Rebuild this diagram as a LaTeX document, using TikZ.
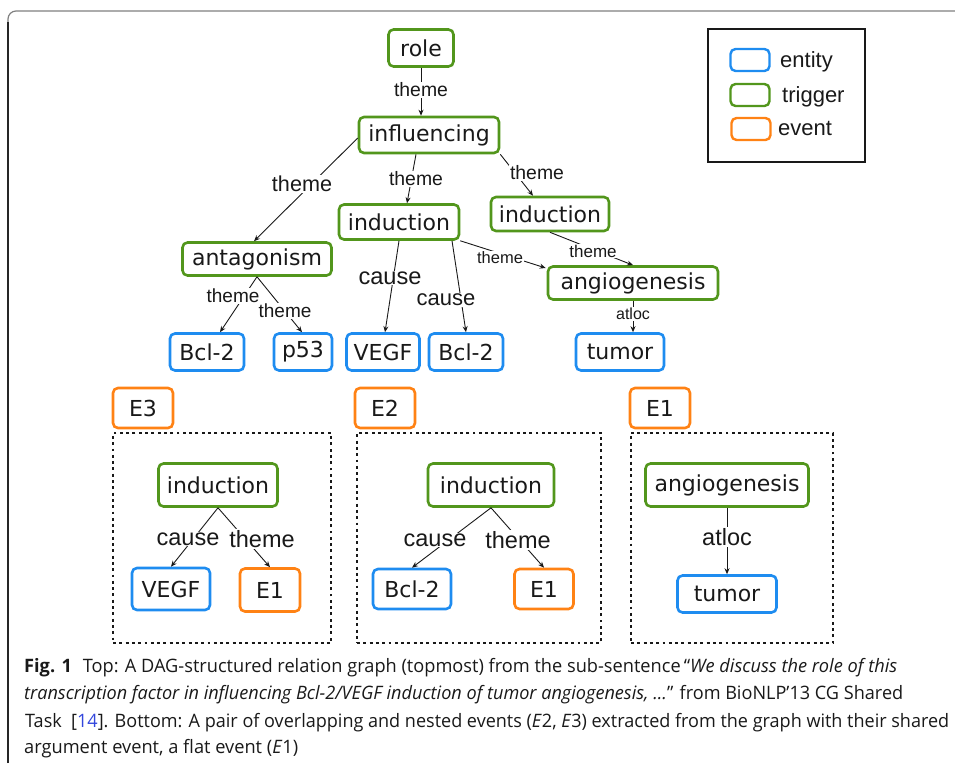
\documentclass[tikz,border=0pt]{standalone}
\usepackage{graphicx}
\usepackage{fontspec}
\usetikzlibrary{arrows.meta,calc}
\newfontfamily\nodefont{DejaVu Sans}
\newfontfamily\labfont{Liberation Sans}
\newfontfamily\capfont{Open Sans}
\definecolor{cgreen}{RGB}{82,150,28}
\definecolor{cblue}{RGB}{30,140,240}
\definecolor{corange}{RGB}{255,130,20}
\definecolor{clink}{RGB}{50,70,220}
\definecolor{ctext}{RGB}{25,25,25}
\tikzset{
  box/.style={draw, rounded corners=5pt, line width=2.6pt, fill=white, inner sep=0pt,
    font=\nodefont\fontsize{22}{26}\selectfont, text=ctext},
  trig/.style={box, draw=cgreen},
  ent/.style={box, draw=cblue},
  evt/.style={box, draw=corange},
  lab/.style={fill=white, inner sep=1pt, text=ctext},
  conn/.style={line width=0.9pt, draw=ctext, -{Stealth[length=6pt,width=5pt]}},
  region/.style={draw=ctext, line width=2.9pt, dash pattern=on 2.9pt off 3.4pt, inner sep=0pt},
  legsw/.style={line width=2.4pt, minimum width=39pt, minimum height=22pt},
  legtxt/.style={anchor=base west, inner sep=0pt, font=\labfont\fontsize{22}{26}\selectfont, text=ctext},
  capline/.style={anchor=base west, inner sep=0pt, text=ctext},
}
\newcommand{\fs}[1]{\labfont\fontsize{#1}{#1}\selectfont}
\newcommand{\capfs}{\capfont\fontsize{18.5}{22}\selectfont}
\begin{document}
\begin{tikzpicture}[x=1pt,y=-1pt]
\useasboundingbox (0,0) rectangle (955,763);
% outer frame
\draw[line width=1.2pt, black!50, rounded corners=8pt] (8,40) -- (8,11) -- (955,11);
\draw[line width=1.2pt, black!85] (8,763) -- (8,22);

% legend
\node[draw=ctext, line width=1.6pt, minimum width=157pt, minimum height=133pt, inner sep=0pt] (legend) at (786.5,95.5) {};
\node[ent, legsw] (lgent) at (750,60) {};
\node[trig, legsw] (lgtrig) at (750,95) {};
\node[evt, legsw] (lgevt) at (751,129) {};
\node[legtxt] (lgentt) at (780,67) {entity};
\node[legtxt] (lgtrigt) at (782,102) {trigger};
\node[legtxt] (lgevtt) at (778,135) {event};

% top graph nodes
\node[trig, minimum width=65pt, minimum height=37pt] (role) at (421,48) {role};
\node[trig, minimum width=140pt, minimum height=36pt] (infl) at (429,135) {influencing};
\node[trig, minimum width=120pt, minimum height=35pt] (indA) at (399,222) {induction};
\node[trig, minimum width=118pt, minimum height=34pt] (indB) at (550,214) {induction};
\node[trig, minimum width=149pt, minimum height=33pt] (antag) at (257,259) {antagonism};
\node[trig, minimum width=170pt, minimum height=33pt] (angio) at (633,283) {angiogenesis};
\node[ent, minimum width=74pt, minimum height=37pt] (bclA) at (207,352) {Bcl-2};
\node[ent, minimum width=58pt, minimum height=37pt] (pff) at (303,352) {p53};
\node[ent, minimum width=73pt, minimum height=37pt] (vegfA) at (383,352) {VEGF};
\node[ent, minimum width=74pt, minimum height=37pt] (bclB) at (466,352) {Bcl-2};
\node[ent, minimum width=88pt, minimum height=37pt] (tumA) at (620,352) {tumor};

% top edges
\draw[conn] (role.south) -- (role.south |- infl.north);
\draw[conn] ($(infl.west)+(0,3)$) -- ($(antag.north)+(-3,0)$);
\draw[conn] ($(infl.south)+(-13,0)$) -- ($(indA.north)+(8,0)$);
\draw[conn] (infl.south east) -- ($(indB.north)+(-17,0)$);
\draw[conn] (indA.south) -- ($(vegfA.north)+(2,0)$);
\draw[conn] ($(indA.south)+(53,0)$) -- (bclB.north);
\draw[conn] (indA.south east) -- ($(angio.west)+(-1,-15)$);
\draw[conn] (indB.south) -- (angio.north);
\draw[conn] (antag.south) -- ($(bclA.north)+(13,0)$);
\draw[conn] (antag.south) -- ($(pff.north)+(-1,0)$);
\draw[conn] (angio.south) -- (angio.south |- tumA.north);

% top edge labels
\node[lab, font=\fs{19.4}] (l1) at (421,90) {theme};
\node[lab, font=\fs{21.6}] (l2) at (302,184) {theme};
\node[lab, font=\fs{19.4}] (l3) at (416,179) {theme};
\node[lab, font=\fs{19.4}] (l4) at (537,173) {theme};
\node[lab, font=\fs{16.5}] (l5) at (500,258) {theme};
\node[lab, font=\fs{17}] (l6) at (593,251) {theme};
\node[lab, font=\fs{19}] (l7) at (233,296) {theme};
\node[lab, font=\fs{19}] (l8) at (285,311) {theme};
\node[lab, font=\fs{23.6}] (l9) at (390,278) {cause};
\node[lab, font=\fs{22}] (l10) at (446,300) {cause};
\node[lab, font=\fs{16}] (l11) at (633,314) {atloc};

% bottom regions
\node[region, minimum width=218pt, minimum height=210pt] (regA) at (222,538) {};
\node[region, minimum width=244pt, minimum height=210pt] (regB) at (479,538) {};
\node[region, minimum width=202pt, minimum height=210pt] (regC) at (732,538) {};

% bottom event labels
\node[evt, minimum width=60pt, minimum height=40pt] (eThree) at (143,408) {E3};
\node[evt, minimum width=60pt, minimum height=40pt] (eTwo) at (385,408) {E2};
\node[evt, minimum width=60pt, minimum height=40pt] (eOne) at (660,408) {E1};

% bottom nodes
\node[trig, minimum width=119pt, minimum height=43pt] (indC) at (218,485) {induction};
\node[ent, minimum width=78pt, minimum height=42pt] (vegfB) at (171,589) {VEGF};
\node[evt, minimum width=60pt, minimum height=43pt] (eOneA) at (270,590) {E1};
\node[trig, minimum width=126pt, minimum height=43pt] (indD) at (491,485) {induction};
\node[ent, minimum width=78pt, minimum height=40pt] (bclC) at (412,589) {Bcl-2};
\node[evt, minimum width=59pt, minimum height=40pt] (eOneB) at (544,589) {E1};
\node[trig, minimum width=163pt, minimum height=43pt] (angioB) at (727,485) {angiogenesis};
\node[ent, minimum width=99pt, minimum height=37pt] (tumB) at (727,594) {tumor};

% bottom edges
\draw[conn] (indC.south) -- (vegfB.north);
\draw[conn] (indC.south) -- (eOneA.north);
\draw[conn] (indD.south) -- (bclC.north);
\draw[conn] (indD.south) -- (eOneB.north);
\draw[conn] (angioB.south) -- (tumB.north);

\node[lab, font=\fs{23.5}] (m1) at (188,539) {cause};
\node[lab, font=\fs{23.5}] (m2) at (262,539) {theme};
\node[lab, font=\fs{23.5}] (m3) at (435,540) {cause};
\node[lab, font=\fs{23.5}] (m4) at (518,540) {theme};
\node[lab, font=\fs{23.5}] (m5) at (727,537) {atloc};

% caption
\node[capline] (capA) at (24,672) {\resizebox{873pt}{\height}{\capfs\textbf{Fig. 1}\hspace{0.6em}Top: A DAG-structured relation graph (topmost) from the sub-sentence\,“\textit{We discuss the role of this}}};
\node[capline] (capB) at (24,699) {\resizebox{879pt}{\height}{\capfs\textit{transcription factor in influencing Bcl-2/VEGF induction of tumor angiogenesis, ...}” from BioNLP’13 CG Shared}};
\node[capline] (capC) at (25,727) {\resizebox{924pt}{\height}{\capfs Task\ \ [{\color{clink}14}]. Bottom: A pair of overlapping and nested events (\textit{E}2, \textit{E}3) extracted from the graph with their shared}};
\node[capline] (capD) at (24,753) {\resizebox{274pt}{\height}{\capfs argument event, a flat event (\textit{E}1)}};
\end{tikzpicture}
\end{document}
